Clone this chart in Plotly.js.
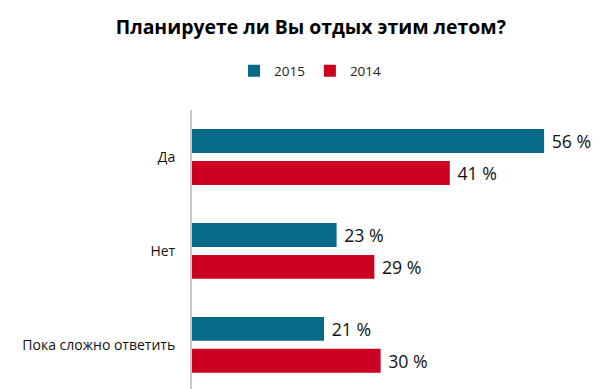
<!DOCTYPE html>
<html>
<head>
<meta charset="utf-8">
<script src="https://cdn.plot.ly/plotly-3.0.1.min.js"></script>
<style>html,body{margin:0;padding:0;background:#fff;}#chart{width:600px;height:389px;}</style>
</head>
<body>
<div id="chart"></div>
<script>
const categories = ["Да", "Нет", "Пока сложно ответить"];
const seriesNames = ["2015", "2014"];
const values2015 = [56, 23, 21];
const values2014 = [41, 29, 30];
const colors = ["#076A88", "#CC0020"];

function label(v){ return "\u00A0" + v + " %"; }

const traces = [values2015, values2014].map((vals, i) => ({
  type: "bar",
  orientation: "h",
  name: seriesNames[i],
  y: categories,
  x: vals,
  text: vals.map(label),
  textposition: "outside",
  cliponaxis: false,
  textfont: {family: "Open Sans, sans-serif", size: 18.5, color: "#111"},
  marker: {color: colors[i]},
  hoverinfo: "none"
}));

const layout = {
  width: 600, height: 389,
  margin: {l: 192, r: 10, t: 110, b: 0},
  paper_bgcolor: "#fff", plot_bgcolor: "#fff",
  font: {family: "Open Sans, sans-serif", color: "#111"},
  title: {text: "<b>Планируете ли Вы отдых этим летом?</b>", x: 0.518, xanchor: "center", y: 0.93, yanchor: "middle",
          font: {family: "Open Sans, sans-serif", size: 19.4, color: "#000"}},
  showlegend: true,
  legend: {orientation: "h", xref: "paper", x: 0.1055, xanchor: "left", yref: "paper", y: 1.14, yanchor: "middle",
           traceorder: "normal", font: {size: 13.5, color: "#222"}, bgcolor: "rgba(0,0,0,0)"},
  barmode: "group",
  bargap: 0.32,
  bargroupgap: 0.25,
  xaxis: {range: [0, 63.3], showgrid: false, zeroline: false, showticklabels: false, showline: false, ticks: ""},
  yaxis: {type: "category", categoryorder: "array", categoryarray: categories,
          range: [2.47, -0.5], showgrid: false, zeroline: false,
          showline: true, linecolor: "#C8C8C8", linewidth: 2,
          ticks: "", ticklabelstandoff: 12, tickfont: {size: 14, color: "#111"}}
};

Plotly.newPlot("chart", traces, layout, {displayModeBar: false, staticPlot: true});
</script>
</body>
</html>
